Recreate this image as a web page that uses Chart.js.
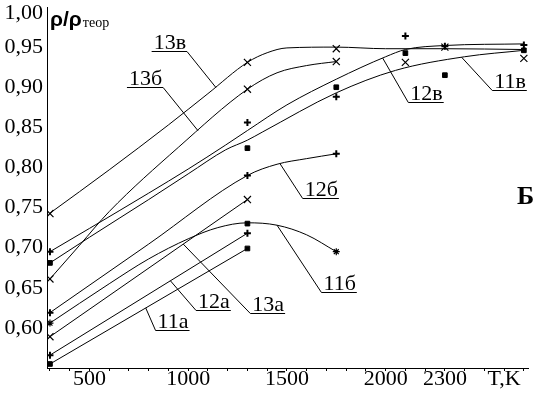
<!DOCTYPE html>
<html>
<head>
<meta charset="utf-8">
<script src="https://cdn.jsdelivr.net/npm/chart.js@4/dist/chart.umd.min.js"></script>
<style>
  html, body { margin: 0; padding: 0; background: #fff; }
</style>
</head>
<body>
<canvas id="myChart" width="535" height="393"></canvas>
<script>
// temperatures of the measured points
const T_A = [300, 1300];
const T_B = [300, 1300, 1750];
const T_V = [300, 1300, 1750, 2100, 2300, 2700];

// measured relative densities (markers)
const pts11a = [0.555, 0.699];
const pts12a = [0.566, 0.718];
const pts13a = [0.589, 0.760];
const pts11b = [0.606, 0.730, 0.695];
const pts12b = [0.619, 0.790, 0.817];
const pts13b = [0.661, 0.8975, 0.932];
const pts11v = [0.681, 0.824, 0.900, 0.9425, 0.915, 0.946];
const pts12v = [0.695, 0.856, 0.888, 0.964, 0.951, 0.9525];
const pts13v = [0.7425, 0.931, 0.948, 0.931, 0.950, 0.936];

// fitted curves
const cT11b = [300, 600, 800, 1000, 1150, 1300, 1450, 1600, 1750];
const cV11b = [0.606, 0.655, 0.686, 0.711, 0.725, 0.731, 0.728, 0.716, 0.695];
const cT12b = [300, 800, 1300, 1450, 1600, 1750];
const cV12b = [0.619, 0.7045, 0.790, 0.804, 0.811, 0.817];
const cT13b = [300, 450, 600, 950, 1300, 1450, 1600, 1750];
const cV13b = [0.661, 0.703, 0.745, 0.825, 0.8975, 0.918, 0.927, 0.932];
const cT11v = [300, 500, 800, 1000, 1190, 1300, 1375, 1750, 2050, 2400, 2700];
const cV11v = [0.681, 0.713, 0.760, 0.792, 0.822, 0.834, 0.844, 0.893, 0.921, 0.938, 0.946];
const cT12v = [300, 500, 800, 1000, 1190, 1300, 1500, 1750, 2000, 2100, 2300, 2700];
const cV12v = [0.695, 0.724, 0.768, 0.798, 0.828, 0.846, 0.878, 0.910, 0.938, 0.947, 0.952, 0.954];
const cT13v = [300, 600, 900, 1100, 1300, 1400, 1500, 1750, 2000, 2300, 2700];
const cV13v = [0.743, 0.797, 0.853, 0.892, 0.931, 0.943, 0.949, 0.950, 0.948, 0.948, 0.947];

// axis ticks
const X_LABEL_AT = [500, 1000, 1500, 2000, 2300, 2600];
const X_LABELS = ["500", "1000", "1500", "2000", "2300", "T,K"];
const Y_TICKS = [0.55, 0.60, 0.65, 0.70, 0.75, 0.80, 0.85, 0.90, 0.95, 1.00];

const FONT = '"Liberation Serif", "Times New Roman", serif';

const CURVES = {
  "11а": { T: T_A, V: pts11a, markT: T_A, markV: pts11a, style: "rect", smooth: false },
  "12а": { T: T_A, V: pts12a, markT: T_A, markV: pts12a, style: "cross", smooth: false },
  "13а": { T: T_A, V: pts13a, markT: T_A, markV: pts13a, style: "crossRot", smooth: false },
  "11б": { T: cT11b, V: cV11b, markT: T_B, markV: pts11b, style: ["star", "rect", "star"], smooth: true },
  "12б": { T: cT12b, V: cV12b, markT: T_B, markV: pts12b, style: "cross", smooth: true },
  "13б": { T: cT13b, V: cV13b, markT: T_B, markV: pts13b, style: "crossRot", smooth: true },
  "11в": { T: cT11v, V: cV11v, markT: T_V, markV: pts11v, style: "rect", smooth: true },
  "12в": { T: cT12v, V: cV12v, markT: T_V, markV: pts12v, style: "cross", smooth: true },
  "13в": { T: cT13v, V: cV13v, markT: T_V, markV: pts13v, style: "crossRot", smooth: true },
};

// curve captions: text anchor (left, baseline) and where the leader meets the curve
const CAPTIONS = [
  { text: "13в", T: 825, v: 0.9476, tipT: 1140, from: "right" },
  { text: "13б", T: 700, v: 0.903, tipT: 1050, from: "right" },
  { text: "12в", T: 2125, v: 0.884, tipT: 1985, from: "left" },
  { text: "11в", T: 2550, v: 0.899, tipT: 2385, from: "left" },
  { text: "12б", T: 1590, v: 0.7644, tipT: 1465, from: "left" },
  { text: "11б", T: 1685, v: 0.6472, tipT: 1450, from: "left" },
  { text: "13а", T: 1325, v: 0.621, tipT: 975, from: "left" },
  { text: "12а", T: 1050, v: 0.6248, tipT: 910, from: "left" },
  { text: "11а", T: 845, v: 0.600, tipT: 785, from: "left" },
];

const pairs = (xs, ys) => xs.map((x, i) => ({ x: x, y: ys[i] }));

const valueAt = (xs, ys, t) => {
  for (let i = 1; i < xs.length; i++) {
    if (t <= xs[i]) {
      const k = (t - xs[i - 1]) / (xs[i] - xs[i - 1]);
      return ys[i - 1] + k * (ys[i] - ys[i - 1]);
    }
  }
  return ys[ys.length - 1];
};

const markerSize = (style) => {
  if (style === "rect") return { r: 3.3, w: 1 };
  if (style === "cross") return { r: 3.5, w: 2 };
  if (style === "crossRot") return { r: 5, w: 1.2 };
  return { r: 3.5, w: 1.2 };
};

const datasets = [];
Object.keys(CURVES).forEach((name) => {
  const c = CURVES[name];
  datasets.push({
    label: name,
    data: pairs(c.T, c.V),
    showLine: true,
    pointRadius: 0,
    borderColor: "#000",
    borderWidth: 1,
    tension: 0,
    cubicInterpolationMode: c.smooth ? "monotone" : "default",
  });
  const styles = Array.isArray(c.style) ? c.style : c.markT.map(() => c.style);
  datasets.push({
    label: name + " pts",
    data: pairs(c.markT, c.markV),
    showLine: false,
    pointStyle: styles,
    pointRadius: styles.map((s) => markerSize(s).r),
    pointBorderWidth: styles.map((s) => markerSize(s).w),
    pointBackgroundColor: "#000",
    pointBorderColor: "#000",
  });
});

const annotate = {
  id: "annotate",
  afterDatasetsDraw(chart) {
    const { ctx, scales: { x, y }, chartArea } = chart;
    ctx.save();
    ctx.fillStyle = "#000";
    ctx.strokeStyle = "#000";
    ctx.lineWidth = 1;
    ctx.textBaseline = "alphabetic";
    ctx.textAlign = "left";
    ctx.font = "22px " + FONT;

    CAPTIONS.forEach((l) => {
      const c = CURVES[l.text];
      const px = x.getPixelForValue(l.T);
      const py = y.getPixelForValue(l.v);
      const w = ctx.measureText(l.text).width;
      ctx.fillText(l.text, px, py);
      const uy = Math.round(py + 2) + 0.5;
      const x0 = px - 2;
      const x1 = px + w + 1;
      const tx = x.getPixelForValue(l.tipT);
      const ty = y.getPixelForValue(valueAt(c.T, c.V, l.tipT));
      ctx.beginPath();
      ctx.moveTo(x0, uy);
      ctx.lineTo(x1, uy);
      ctx.moveTo(l.from === "left" ? x0 : x1, uy);
      ctx.lineTo(tx, ty);
      ctx.stroke();
    });

    // axis title
    const ax = chartArea.left + 3;
    const ay = chartArea.top + 19;
    ctx.font = 'bold 21px "Liberation Sans", Arial, sans-serif';
    ctx.fillText("ρ/ρ", ax, ay);
    const rw = ctx.measureText("ρ/ρ").width;
    ctx.font = "14px " + FONT;
    ctx.fillText("теор", ax + rw + 1, ay + 1);

    // panel letter
    ctx.font = "bold 26px " + FONT;
    ctx.fillText("Б", x.getPixelForValue(2665), y.getPixelForValue(0.7544));
    ctx.restore();
  },
};

new Chart(document.getElementById("myChart"), {
  type: "scatter",
  data: { datasets: datasets },
  plugins: [annotate],
  options: {
    responsive: false,
    animation: false,
    events: [],
    layout: { padding: { top: 7, right: 0, bottom: 0, left: 0 } },
    plugins: {
      legend: { display: false },
      tooltip: { enabled: false },
    },
    scales: {
      x: {
        type: "linear",
        min: 285,
        max: 2725,
        border: { display: true, color: "#000", width: 1 },
        grid: {
          display: true,
          drawOnChartArea: false,
          drawTicks: true,
          tickLength: 3,
          color: "#000",
        },
        ticks: {
          autoSkip: false,
          maxRotation: 0,
          padding: 0,
          color: "#000",
          font: { family: FONT, size: 22, lineHeight: "16px" },
          callback: (value) => {
            const i = X_LABEL_AT.indexOf(value);
            return i >= 0 ? X_LABELS[i] : "";
          },
        },
        afterBuildTicks: (axis) => {
          const ticks = [];
          for (let t = 300; t <= 2700; t += 100) ticks.push({ value: t });
          axis.ticks = ticks;
        },
        afterFit: (axis) => {
          axis.height = 25;
          axis.paddingLeft = 0;
          axis.paddingRight = 0;
        },
      },
      y: {
        type: "linear",
        min: 0.55,
        max: 1.0,
        border: { display: true, color: "#000", width: 1 },
        grid: { display: false, drawTicks: false },
        ticks: {
          padding: 4,
          color: "#000",
          font: (c) => ({
            family: FONT,
            size: 22,
            lineHeight: c.tick && c.tick.value === 1 ? "12px" : 1.2,
          }),
          callback: (value) => {
            if (value === 0.55) return "";
            const s = value.toFixed(2).replace(".", ",");
            return value === 1 ? ["", s] : s;
          },
        },
        afterBuildTicks: (axis) => {
          axis.ticks = Y_TICKS.map((v) => ({ value: v }));
        },
        afterFit: (axis) => {
          axis.width = 47;
          axis.paddingTop = 0;
          axis.paddingBottom = 0;
        },
      },
    },
  },
});
</script>
</body>
</html>
